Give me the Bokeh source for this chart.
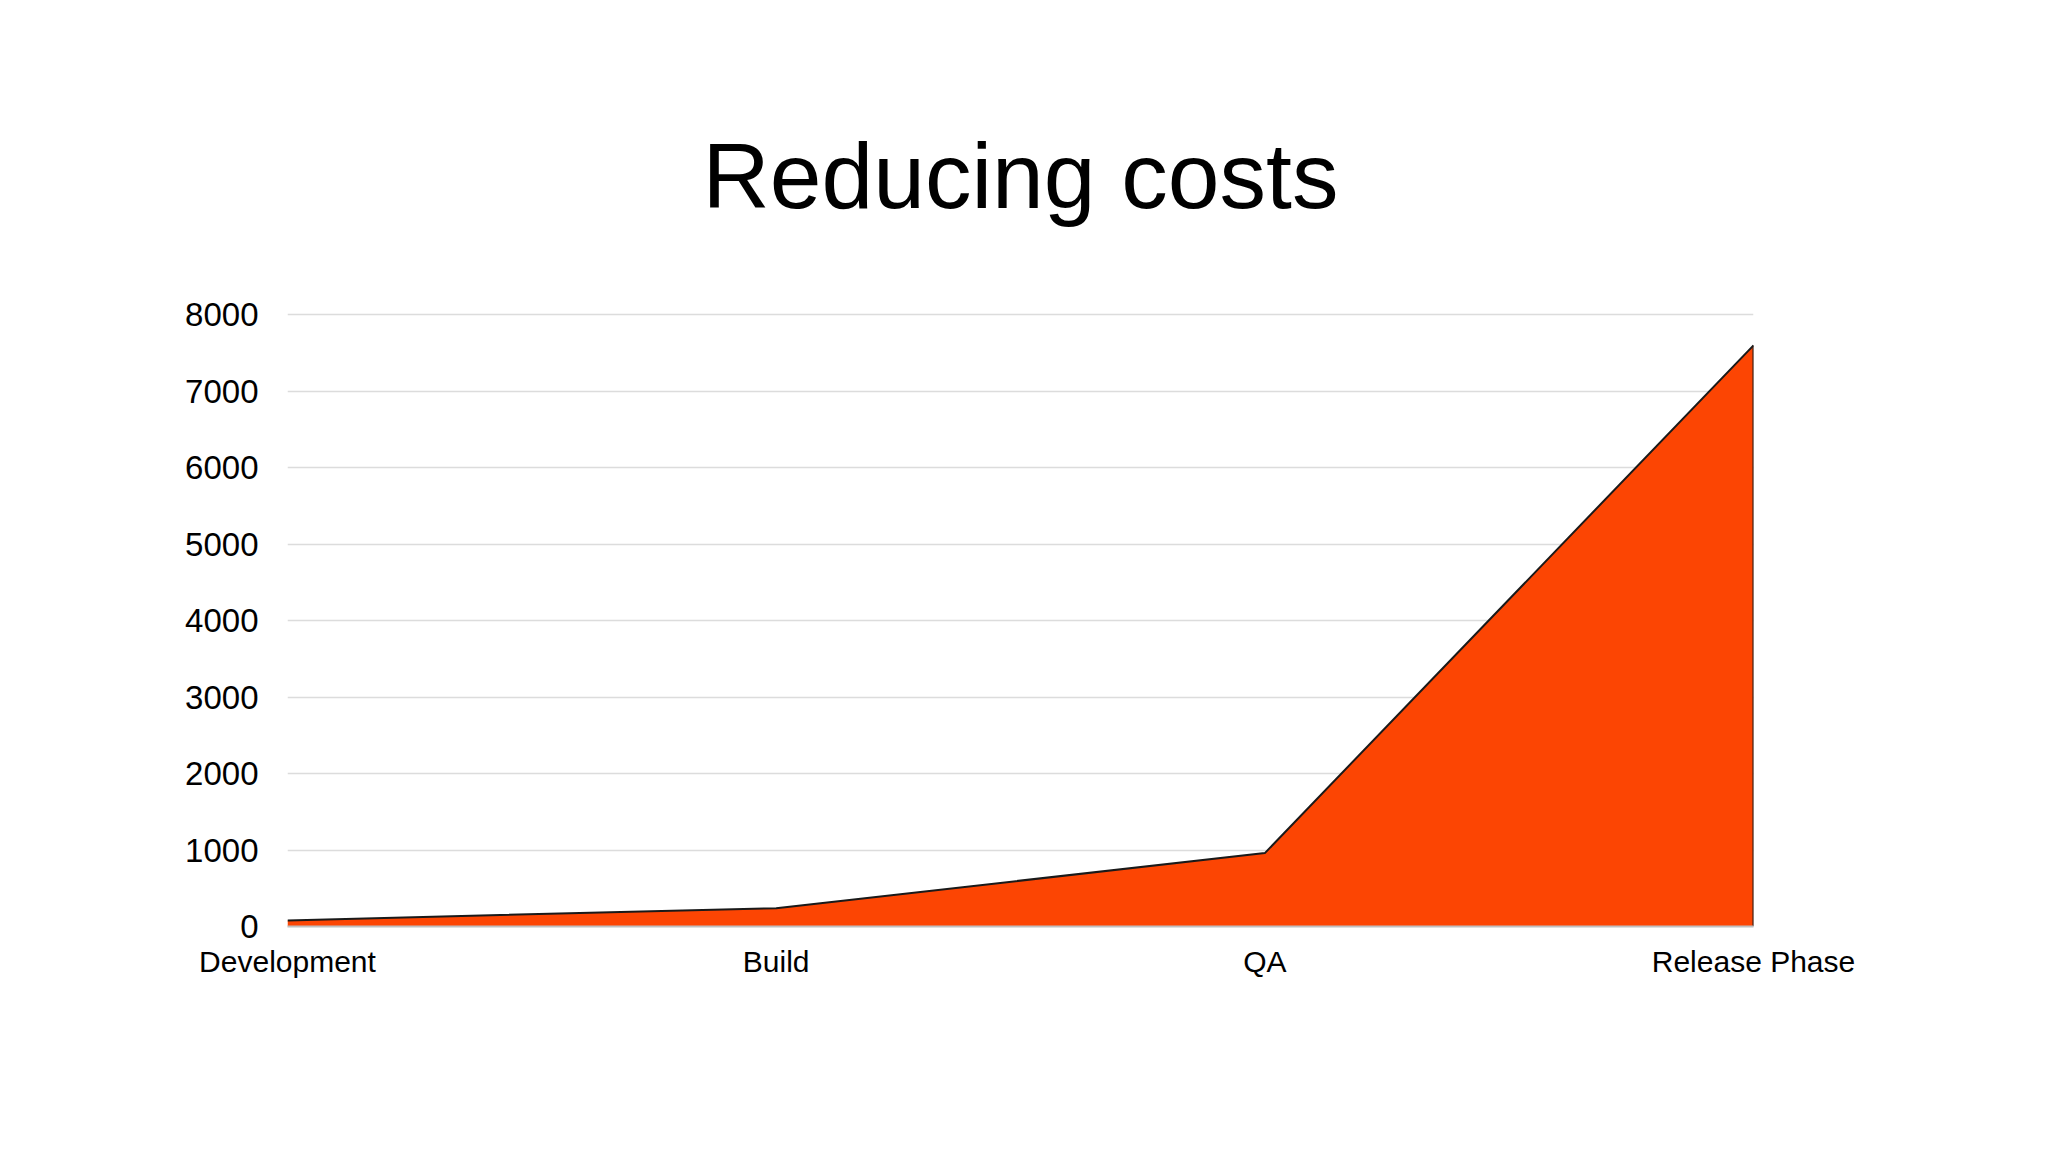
from bokeh.embed import file_html
from bokeh.models import FixedTicker, Range1d
from bokeh.plotting import figure
from bokeh.resources import INLINE

phases = ["Development", "Build", "QA", "Release Phase"]
costs = [80, 240, 960, 7600]
y_ticks = [0, 1000, 2000, 3000, 4000, 5000, 6000, 7000, 8000]

FONT = "Liberation Sans"
xs = list(range(len(phases)))

p = figure(width=2032, height=1136, output_backend="svg", toolbar_location=None,
           x_range=Range1d(0, len(phases) - 1), y_range=Range1d(0, 8030),
           min_border_left=287, min_border_right=279,
           min_border_top=312, min_border_bottom=210,
           title="Reducing costs")

p.title.text_font = FONT
p.title.text_font_size = "93px"
p.title.text_font_style = "normal"
p.title.align = "center"
p.title.text_color = "#000000"
p.title.standoff = 169

p.outline_line_color = None
p.background_fill_color = "white"
p.border_fill_color = "white"

p.varea(x=xs, y1=0, y2=costs, fill_color="#fc4503")
p.line(x=xs, y=costs, line_color="#1a1a1a", line_width=2)
p.segment(x0=[xs[-1]], y0=[0], x1=[xs[-1]], y1=[costs[-1]], line_color="#1a1a1a", line_width=2)

p.xgrid.grid_line_color = None
p.ygrid.ticker = FixedTicker(ticks=y_ticks)
p.ygrid.grid_line_color = "#dcdcdc"
p.ygrid.grid_line_width = 1.5

p.xaxis.ticker = FixedTicker(ticks=xs)
p.xaxis.major_label_overrides = {i: name for i, name in enumerate(phases)}
p.xaxis.axis_line_color = "#c0c0c0"
p.xaxis.axis_line_width = 2
p.xaxis.major_tick_line_color = None
p.xaxis.minor_tick_line_color = None
p.xaxis.major_label_text_font = FONT
p.xaxis.major_label_text_font_size = "30px"
p.xaxis.major_label_text_color = "#000000"
p.xaxis.major_label_standoff = 12

p.yaxis.ticker = FixedTicker(ticks=y_ticks)
p.yaxis.axis_line_color = None
p.yaxis.major_tick_line_color = None
p.yaxis.minor_tick_line_color = None
p.yaxis.major_label_text_font = FONT
p.yaxis.major_label_text_font_size = "33px"
p.yaxis.major_label_text_color = "#000000"
p.yaxis.major_label_standoff = 23

open("out.html", "w").write(file_html(p, INLINE))
